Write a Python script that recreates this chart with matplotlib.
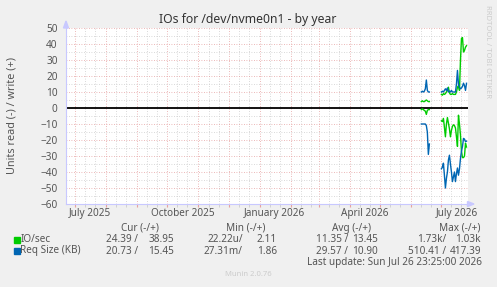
import numpy as np
import matplotlib
matplotlib.use("Agg")
import matplotlib.pyplot as plt
import matplotlib.dates as mdates
import datetime as dt

W, H = 497, 287

# daily samples, Jun 11 2026 .. Jul 26 2026 (gap Jun 20 - Jun 30)
first_day = dt.date(2026, 6, 11)
nan = np.nan
ios_read = [1, 0.5, 1, 1.5, 2, 4, 1.5, 1, 1,
            nan, nan, nan, nan, nan, nan, nan, nan, nan, nan, nan,
            8, 8.5, 6.5, 12, 18, 10, 6, 9.5, 13, 18, 14, 11.5, 10.5,
            11, 12.5, 18, 24, 4.5, 10, 17, 27, 31, 31, 30, 22, 24.39]
ios_write = [4, 4.5, 4, 4, 4.5, 5, 4.5, 4, 4,
             nan, nan, nan, nan, nan, nan, nan, nan, nan, nan, nan,
             8.5, 8, 9, 8.5, 9, 10, 11, 13, 9.5, 8.5, 8.5, 9, 8.5,
             8.5, 8.5, 10, 13, 14, 11, 30, 43.5, 44, 35, 36, 38, 38.95]
req_read = [10, 10, 10, 10, 10, 11, 15, 29, 22.5,
            nan, nan, nan, nan, nan, nan, nan, nan, nan, nan, nan,
            38, 37, 34.5, 42, 50, 44, 40, 32.5, 29.5, 35, 40, 46, 43,
            40, 46, 41, 37.5, 42, 38, 31.5, 27, 24, 19, 19.5, 21, 20.73]
req_write = [10, 10.5, 10, 10.5, 12, 17.5, 11, 10, 10,
             nan, nan, nan, nan, nan, nan, nan, nan, nan, nan, nan,
             10, 10.5, 10, 11, 12, 11, 12.5, 10, 10.5, 10, 11, 10, 10,
             10, 10, 15, 23.5, 15, 13, 12, 12.5, 13.5, 15.5, 14, 11, 15.45]

series = ["IO/sec", "Req Size (KB)"]
colors = ["#00CC00", "#0066B3"]
cur = [("24.39 /", "38.95"), ("20.73 /", "15.45")]
mins = [("22.22u/", "2.11"), ("27.31m/", "1.86")]
avgs = [("11.35 /", "13.45"), ("29.57 /", "10.90")]
maxs = [("1.73k/", "1.03k"), ("510.41 /", "417.39")]

days = [first_day + dt.timedelta(days=i) for i in range(len(ios_read))]
x_start = dt.datetime(2025, 6, 22)
x_end = dt.datetime(2026, 7, 27)

plt.rcParams['font.family'] = ['Noto Sans', 'DejaVu Sans']
txt = '#555555'
fs = 7.2
lfs = 7.2


def fx(x):
    return x / W


def fy(y):
    return 1 - y / H


fig = plt.figure(figsize=(W / 100, H / 100), dpi=100, facecolor='#F0F0F0')
ax = fig.add_axes([fx(66), fy(204), fx(467.5) - fx(66), fy(28) - fy(204)])
ax.set_facecolor('white')

ax.set_xlim(x_start, x_end)
ax.set_ylim(-60, 50)

# grid
ax.xaxis.set_major_locator(mdates.MonthLocator())
ax.xaxis.set_minor_locator(mdates.DayLocator(bymonthday=[11, 21]))
ax.yaxis.set_major_locator(plt.MultipleLocator(10))
ax.yaxis.set_minor_locator(plt.MultipleLocator(5))
ax.grid(which='minor', color='#CCCCCC', linestyle=(0, (1, 2)), linewidth=0.6)
ax.grid(which='major', color='#E6A0A0', linestyle=(0, (1, 2)), linewidth=0.6)
ax.set_axisbelow(True)
ax.tick_params(axis='x', which='major', length=2, color='#E6A0A0', labelbottom=False)
ax.tick_params(axis='x', which='minor', length=2, color='#CCCCCC')
ax.tick_params(axis='y', which='both', length=0, labelsize=fs, labelcolor=txt, pad=6)
ax.set_yticks(range(-60, 51, 10))
for s in ['top', 'right']:
    ax.spines[s].set_visible(False)
for s in ['left', 'bottom']:
    ax.spines[s].set_color('#C8C8FF')
    ax.spines[s].set_linewidth(0.8)

# month labels centred mid month
for yr, mo in [(2025, 7), (2025, 10), (2026, 1), (2026, 4), (2026, 7)]:
    d = dt.datetime(yr, mo, 16)
    ax.text(d, -62.5, d.strftime('%B %Y'), ha='center', va='top', fontsize=fs, color=txt,
            clip_on=False)

ax.axhline(0, color='black', linewidth=1.3)

ax.plot(days, ios_write, color=colors[0], linewidth=1.0)
ax.plot(days, -np.array(ios_read), color=colors[0], linewidth=1.0)
ax.plot(days, req_write, color=colors[1], linewidth=1.0)
ax.plot(days, -np.array(req_read), color=colors[1], linewidth=1.0)

# axis arrows
fig.patches.append(plt.Polygon([[fx(63.5), fy(28)], [fx(68.5), fy(28)], [fx(66), fy(21)]],
                               closed=True, color='#C8C8FF', transform=fig.transFigure))
fig.patches.append(plt.Polygon([[fx(467.5), fy(201.5)], [fx(467.5), fy(206.5)], [fx(474), fy(204)]],
                               closed=True, color='#C8C8FF', transform=fig.transFigure))

fig.text(fx(248), fy(19), 'IOs for /dev/nvme0n1 - by year', ha='center', va='center',
         fontsize=8.8, color='#333333')
fig.text(fx(12), fy(115), 'Units read (-) / write (+)', rotation=90, ha='center', va='center',
         fontsize=7.8, color=txt)
fig.text(fx(488), fy(5), 'RRDTOOL / TOBI OETIKER', rotation=270, ha='center', va='top',
         fontsize=5.5, color='#CCCCCC')

# legend
row_y = [239.5, 251]
for hx, lab in [(140, 'Cur (-/+)'), (246, 'Min (-/+)'), (352, 'Avg (-/+)'), (460, 'Max (-/+)')]:
    fig.text(fx(hx), fy(228), lab, ha='center', va='center', fontsize=lfs, color=txt)
cols = [(138, 174, cur), (243, 277, mins), (348, 378, avgs), (446, 481, maxs)]
for i, name in enumerate(series):
    y = row_y[i]
    fig.patches.append(plt.Rectangle((fx(14), fy(y + 3)), fx(6), fy(0) - fy(6),
                                     color=colors[i], transform=fig.transFigure))
    fig.text(fx(20.5), fy(y), name, ha='left', va='center', fontsize=lfs, color=txt)
    for xa, xb, vals in cols:
        fig.text(fx(xa), fy(y), vals[i][0], ha='right', va='center', fontsize=lfs, color=txt)
        fig.text(fx(xb), fy(y), vals[i][1], ha='right', va='center', fontsize=lfs, color=txt)
fig.text(fx(482), fy(262.5), 'Last update: Sun Jul 26 23:25:00 2026', ha='right', va='center',
         fontsize=lfs, color=txt)
fig.text(fx(248), fy(275), 'Munin 2.0.76', ha='center', va='center', fontsize=5.5, color='#CCCCCC')

fig.savefig('out.png', dpi=100, facecolor=fig.get_facecolor())
